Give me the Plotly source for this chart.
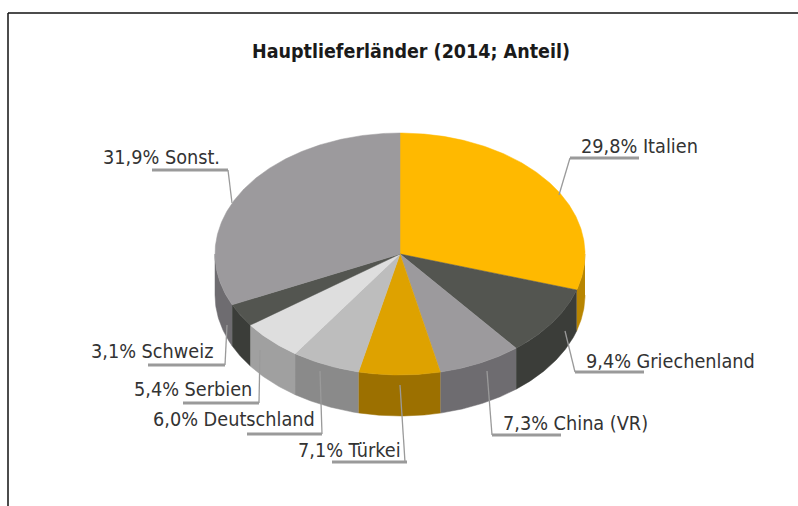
import numpy as np
import plotly.graph_objects as go

# Data
categories = ["Italien", "Griechenland", "China (VR)", "Türkei", "Deutschland", "Serbien", "Schweiz", "Sonst."]
shares = [29.8, 9.4, 7.3, 7.1, 6.0, 5.4, 3.1, 31.9]
title_text = "Hauptlieferländer (2014; Anteil)"

# Styles
top_colors = ["#FFB900", "#535550", "#9C9A9D", "#DEA200", "#BDBDBD", "#DEDEDE", "#535550", "#9C9A9D"]
side_colors = ["#B88500", "#3B3D39", "#6E6C70", "#9C7000", "#8A8A8A", "#A0A0A0", "#3B3D39", "#6E6C70"]

# Layout (pixels of the 798x506 page)
W, H = 798, 506
CX, CY, RX, RY, DEPTH = 400, 254, 185, 121, 41
FONT = "DejaVu Sans Condensed, DejaVu Sans, sans-serif"
LABEL_POS = [(579, 146), (584, 361), (501, 423), (296, 450), (151, 419), (132, 389), (89, 351), (101, 157)]
LEADERS = [
    [(559, 195), (570, 158)],
    [(565, 331), (575, 372)],
    [(487, 371), (492, 435)],
    [(400, 385), (405, 462)],
    [(320, 371), (322, 434)],
    [(260, 350), (259, 403)],
    [(227, 325), (225, 365)],
    [(232, 203), (228, 170)],
]
UNDERLINES = [(570, 639, 158), (575, 644, 372), (492, 561, 435), (332, 407, 462),
              (247, 322, 434), (183, 259, 403), (148, 225, 365), (152, 228, 170)]


def arc(a0, a1):
    t = np.radians(np.linspace(a0, a1, max(3, int(abs(a1 - a0) * 2) + 1)))
    return CX + RX * np.sin(t), CY - RY * np.cos(t)


fig = go.Figure()
edges = np.concatenate([[0], np.cumsum(shares)]) / np.sum(shares) * 360

# Pie walls: only the front half (90 to 270 degrees) is visible
for i, cat in enumerate(categories):
    a0, a1 = max(edges[i], 90), min(edges[i + 1], 270)
    if a1 <= a0:
        continue
    x, y = arc(a0, a1)
    fig.add_trace(go.Scatter(
        x=np.concatenate([x, x[::-1]]), y=np.concatenate([y, y[::-1] + DEPTH]),
        mode="lines", fill="toself", fillcolor=side_colors[i],
        line=dict(color=side_colors[i], width=0.5), hoverinfo="skip", showlegend=False))

# Pie top face
for i, cat in enumerate(categories):
    x, y = arc(edges[i], edges[i + 1])
    fig.add_trace(go.Scatter(
        x=np.concatenate([[CX], x, [CX]]), y=np.concatenate([[CY], y, [CY]]),
        mode="lines", fill="toself", fillcolor=top_colors[i],
        line=dict(color=top_colors[i], width=0.5), name=cat,
        text=f"{shares[i]:.1f}% {cat}".replace(".", ","), hoverinfo="text", showlegend=False))

# Leader lines and labels
GREY = "#9A9A9A"
for i, cat in enumerate(categories):
    p0, p1 = LEADERS[i]
    x0, x1, yu = UNDERLINES[i]
    fig.add_trace(go.Scatter(x=[p0[0], p1[0]], y=[p0[1], p1[1]], mode="lines",
                             line=dict(color=GREY, width=1.3), hoverinfo="skip", showlegend=False))
    fig.add_trace(go.Scatter(x=[x0, x1], y=[yu, yu], mode="lines",
                             line=dict(color=GREY, width=3), hoverinfo="skip", showlegend=False))
    label = f"{shares[i]:.1f}".replace(".", ",") + f"% {cat}"
    fig.add_annotation(x=LABEL_POS[i][0], y=LABEL_POS[i][1], text=label, showarrow=False,
                       xanchor="left", yanchor="middle",
                       font=dict(family=FONT, size=19.7, color="#333333"))

fig.add_annotation(x=411, y=51, text=f"<b>{title_text}</b>", showarrow=False,
                   xanchor="center", yanchor="middle",
                   font=dict(family=FONT, size=19.5, color="#1A1A1A"))

# Frame
fig.add_shape(type="line", x0=8, x1=8, y0=13, y1=H, line=dict(color="#111111", width=1.5))
fig.add_shape(type="line", x0=8, x1=W, y0=13, y1=13, line=dict(color="#111111", width=1.5))

fig.update_layout(
    width=W, height=H, margin=dict(l=0, r=0, t=0, b=0), autosize=False,
    paper_bgcolor="white", plot_bgcolor="white",
    xaxis=dict(range=[0, W], visible=False, fixedrange=True),
    yaxis=dict(range=[H, 0], visible=False, fixedrange=True),
)
fig.write_html("out.html", config={"displayModeBar": False},
               post_script="document.body.style.margin='0';document.documentElement.style.overflow='hidden';")
